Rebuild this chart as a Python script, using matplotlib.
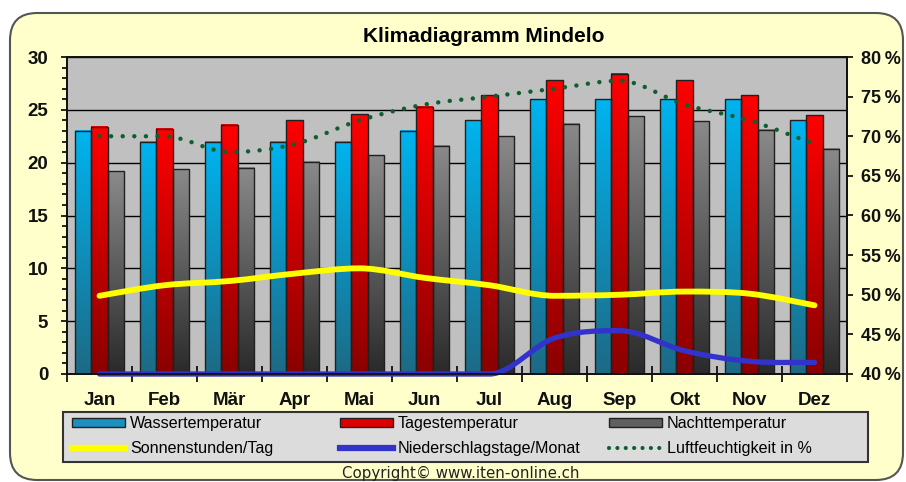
import numpy as np
import matplotlib
matplotlib.use("Agg")
import matplotlib.pyplot as plt
from matplotlib.colors import LinearSegmentedColormap
from matplotlib.patches import FancyBboxPatch, Patch, PathPatch, Rectangle
from matplotlib.lines import Line2D
from matplotlib.path import Path
from matplotlib.ticker import MultipleLocator, FuncFormatter

# Data
months = ['Jan', 'Feb', 'Mär', 'Apr', 'Mai', 'Jun', 'Jul', 'Aug', 'Sep', 'Okt', 'Nov', 'Dez']
wasser = [23, 22, 22, 22, 22, 23, 24, 26, 26, 26, 26, 24]
tages = [23.4, 23.2, 23.6, 24.0, 24.6, 25.3, 26.4, 27.8, 28.4, 27.8, 26.4, 24.5]
nacht = [19.2, 19.4, 19.5, 20.1, 20.7, 21.6, 22.5, 23.7, 24.4, 23.9, 23.1, 21.3]
sonne = [7.4, 8.4, 8.8, 9.5, 10.0, 9.1, 8.4, 7.4, 7.5, 7.8, 7.6, 6.5]
regen = [0, 0, 0, 0, 0, 0, 0, 3.4, 4.1, 2.2, 1.2, 1.1]
feuchte = [70, 70, 68, 69, 72, 74, 75, 76, 77, 74, 72, 69]

plt.rcParams['font.family'] = ['Liberation Sans', 'DejaVu Sans']

fig = plt.figure(figsize=(9.06, 4.82), dpi=100)
fig.patch.set_facecolor('white')

# rounded yellow background
bg = FancyBboxPatch((10 / 906, 2 / 482), 893 / 906, 467 / 482,
                    boxstyle="round,pad=0,rounding_size=0.03",
                    transform=fig.transFigure, facecolor='#ffffcc',
                    edgecolor='#555555', linewidth=1.5, zorder=-10,
                    mutation_aspect=906 / 482)
fig.patches.append(bg)

ax = fig.add_axes([67 / 906, 1 - 374 / 482, 780 / 906, 317 / 482])
ax.set_facecolor('#c0c0c0')
ax2 = ax.twinx()

x = np.arange(len(months))
w = 0.25


def smooth_path(xs, ys):
    # smoothed line through the points, flat tangent at turning points
    pts = np.column_stack([xs, ys]).astype(float)
    n = len(pts)
    tang = np.zeros_like(pts)
    for i in range(n):
        a = pts[max(i - 1, 0)]
        b = pts[min(i + 1, n - 1)]
        tang[i] = (b - a) / 2
        if 0 < i < n - 1:
            if (pts[i, 1] - a[1]) * (b[1] - pts[i, 1]) <= 0:
                tang[i, 1] = 0
    verts = [pts[0]]
    codes = [Path.MOVETO]
    for i in range(n - 1):
        verts += [pts[i] + tang[i] / 3, pts[i + 1] - tang[i + 1] / 3, pts[i + 1]]
        codes += [Path.CURVE4] * 3
    return Path(verts, codes)


def gradient_bars(axis, xpos, heights, top, bottom):
    cmap = LinearSegmentedColormap.from_list('g', [top, bottom])
    grad = np.linspace(0, 1, 256).reshape(-1, 1)
    for xi, h in zip(xpos, heights):
        axis.imshow(grad, cmap=cmap, extent=[xi - w / 2, xi + w / 2, 0, h],
                    origin='upper', aspect='auto', zorder=2, interpolation='bilinear')
    axis.bar(xpos, heights, width=w, facecolor='none', edgecolor='#202020',
             linewidth=1.0, zorder=3)


gradient_bars(ax, x - w, wasser, '#00b4f0', '#1d6a85')
gradient_bars(ax, x, tages, '#ff0000', '#8a0000')
gradient_bars(ax, x + w, nacht, '#8a8a8a', '#2a2a2a')

ax.add_patch(PathPatch(smooth_path(x, sonne), fill=False, edgecolor='#ffff00',
                       linewidth=4.2, zorder=5, capstyle='round'))
ax.add_patch(PathPatch(smooth_path(x, regen), fill=False, edgecolor='#3333cc',
                       linewidth=3.8, zorder=5, capstyle='round', clip_on=False))
ax2.add_patch(PathPatch(smooth_path(x, feuchte), fill=False, edgecolor='#0e5e30',
                        linewidth=3.2, linestyle=(0, (0.01, 2.6)), capstyle='round',
                        zorder=6))

ax.set_xlim(-0.5, 11.5)
ax.set_ylim(0, 30)
ax2.set_ylim(40, 80)
ax.set_axisbelow(True)
ax.yaxis.set_major_locator(MultipleLocator(5))
ax.yaxis.set_minor_locator(MultipleLocator(1))
ax.grid(axis='y', color='black', linewidth=1.0, zorder=0)
ax2.yaxis.set_major_locator(MultipleLocator(5))
ax2.yaxis.set_major_formatter(FuncFormatter(lambda v, p: f"{v:.0f}\u2009%"))

ax.set_xticks(x)
ax.set_xticklabels(months)
ax.set_xticks(np.arange(-0.5, 12, 1), minor=True)
ax.tick_params(axis='x', which='major', length=0, pad=13)
ax.tick_params(axis='x', which='minor', direction='inout', length=12, width=1.2)
ax.tick_params(axis='y', which='major', length=4, width=1.2, pad=9.5)
ax.tick_params(axis='y', which='minor', length=3.5, width=1.2)
ax2.tick_params(axis='y', which='major', length=4, width=1.2, pad=6)

for lab in ax.get_xticklabels() + ax.get_yticklabels():
    lab.set_fontsize(13.5)
    lab.set_fontweight('bold')
    lab.set_color('#111111')
for lab in ax2.get_yticklabels():
    lab.set_fontsize(13)
    lab.set_fontweight('bold')
    lab.set_color('#111111')

for a in (ax, ax2):
    for s in a.spines.values():
        s.set_color('#111111')
        s.set_linewidth(1.3)

fig.text(484 / 906, 1 - 37 / 482, 'Klimadiagramm Mindelo', ha='center', va='center',
         fontsize=15, fontweight='bold')

# legend: frame drawn separately, three columns placed like the original
fig.patches.append(Rectangle((63 / 906, 1 - 462 / 482), 805 / 906, 50 / 482,
                             transform=fig.transFigure, facecolor='#dcdcdc',
                             edgecolor='#333333', linewidth=1.5, zorder=1))
columns = [
    (72, [Patch(facecolor='#1a8fc0', edgecolor='#202020', label='Wassertemperatur'),
          Line2D([], [], color='#ffff00', linewidth=4.5, label='Sonnenstunden/Tag')]),
    (340, [Patch(facecolor='#dd0000', edgecolor='#202020', label='Tagestemperatur'),
           Line2D([], [], color='#3333cc', linewidth=4.5, label='Niederschlagstage/Monat')]),
    (609, [Patch(facecolor='#606060', edgecolor='#202020', label='Nachttemperatur'),
           Line2D([], [], color='#0e5e30', linewidth=3, linestyle=(0, (0.01, 2.0)),
                  dash_capstyle='round', label='Luftfeuchtigkeit in %')]),
]
for xpix, hs in columns:
    fig.legend(handles=hs, loc='center left',
               bbox_to_anchor=(xpix / 906, 1 - 436 / 482),
               fontsize=11.6, handlelength=3.3, handleheight=0.5, handletextpad=0.3,
               frameon=False, borderaxespad=0, borderpad=0, labelspacing=0.6)

fig.text(461 / 906, 1 - 473 / 482, 'Copyright© www.iten-online.ch', ha='center',
         va='center', fontsize=10.8, color='#222222', family='DejaVu Sans')

fig.savefig('out.png', dpi=100)
